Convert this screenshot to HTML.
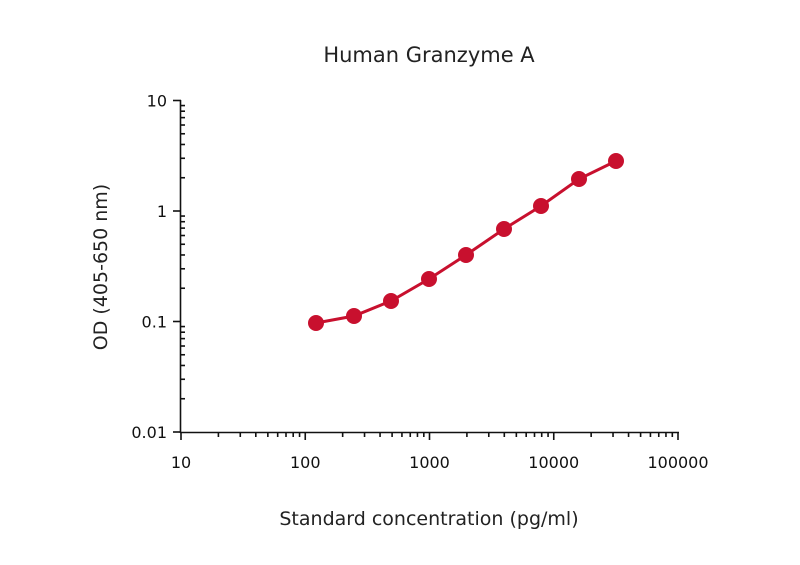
<!DOCTYPE html>
<html><head><meta charset="utf-8"><style>
html,body{margin:0;padding:0;background:#fff;}
svg{display:block;font-family:"DejaVu Sans","Liberation Sans",sans-serif;}
</style></head><body>
<svg id="s" width="800" height="565" viewBox="0 0 800 565" xmlns="http://www.w3.org/2000/svg">
<rect width="800" height="565" fill="#fff"/>
<text x="429" y="62" font-size="21" text-anchor="middle" fill="#222">Human Granzyme A</text>
<text x="429" y="525" font-size="19" text-anchor="middle" fill="#222">Standard concentration (pg/ml)</text>
<text transform="translate(107,267) rotate(-90)" font-size="19" text-anchor="middle" fill="#222">OD (405-650 nm)</text>
<g id="ax" stroke="#111" stroke-width="1.6" fill="none">
<line x1="180.5" y1="100" x2="180.5" y2="433"/>
<line x1="180" y1="432.5" x2="679" y2="432.5"/>
</g>
<g id="lab" font-size="16" fill="#111"></g>
<polyline points="316,323 354,316 391,301 429,279 466,255 504,229 541,206 579,179 616,161" fill="none" stroke="#c8102e" stroke-width="3"/>
<g fill="#c8102e">
<circle cx="316" cy="323" r="8"/><circle cx="354" cy="316" r="8"/><circle cx="391" cy="301" r="8"/>
<circle cx="429" cy="279" r="8"/><circle cx="466" cy="255" r="8"/><circle cx="504" cy="229" r="8"/>
<circle cx="541" cy="206" r="8"/><circle cx="579" cy="179" r="8"/><circle cx="616" cy="161" r="8"/>
</g>
</svg>
<script>
var ns="http://www.w3.org/2000/svg",ax=document.getElementById("ax"),lab=document.getElementById("lab");
function L(x1,y1,x2,y2){var l=document.createElementNS(ns,"line");l.setAttribute("x1",x1);l.setAttribute("y1",y1);l.setAttribute("x2",x2);l.setAttribute("y2",y2);ax.appendChild(l);}
function T(x,y,s,a){var t=document.createElementNS(ns,"text");t.setAttribute("x",x);t.setAttribute("y",y);t.setAttribute("text-anchor",a);t.textContent=s;lab.appendChild(t);}
var xd=124.25,x0=181,yd=110.5,y0=432;
var xl=["10","100","1000","10000","100000"];
for(var d=0;d<5;d++){var x=x0+d*xd;L(x,432,x,440);T(x,468,xl[d],"middle");
 if(d<4)for(var k=2;k<10;k++){var xx=x+Math.log10(k)*xd;L(xx,432,xx,437);}}
var yl=["0.01","0.1","1","10"];
for(var d=0;d<4;d++){var y=y0-d*yd;L(173,y,181,y);T(167,y+6,yl[d],"end");
 if(d<3)for(var k=2;k<10;k++){var yy=y-Math.log10(k)*yd;L(180,yy,185,yy);}}
</script>
</body></html>
